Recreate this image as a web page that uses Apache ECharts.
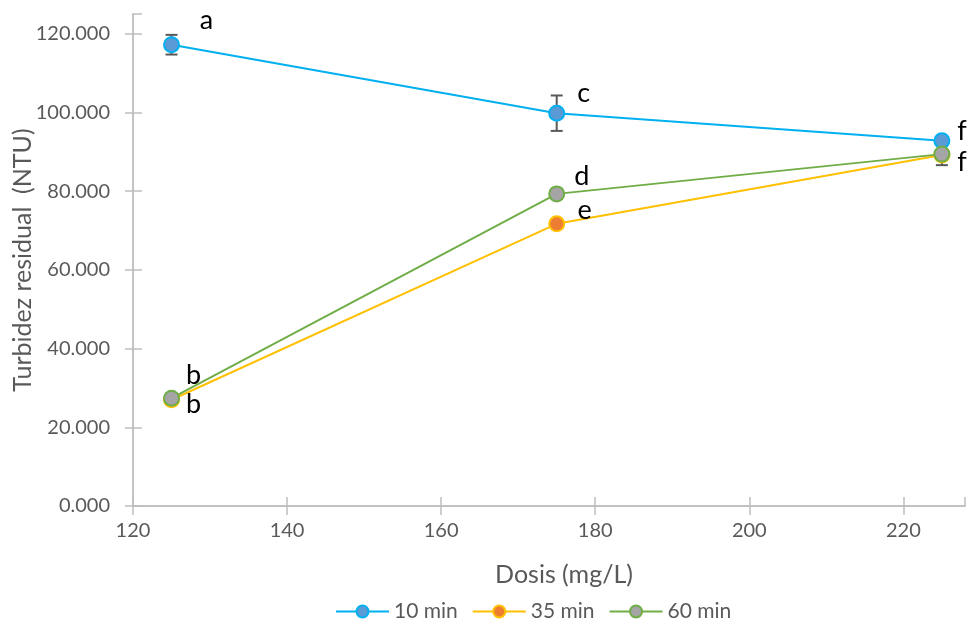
<!DOCTYPE html>
<html>
<head>
<meta charset="utf-8">
<script src="https://cdn.jsdelivr.net/npm/echarts@6/dist/echarts.min.js"></script>
<style>html,body{margin:0;padding:0;background:#fff}#c{width:968px;height:629px}</style>
</head>
<body>
<div id="c"></div>
<script>
const dosis = [125, 175, 225];
const min10 = [117.2, 99.8, 92.8];
const min35 = [27.0, 71.7, 89.2];
const min60 = [27.4, 79.3, 89.4];
const err10 = [2.5, 4.5, 0.8];
const err35 = [0.5, 0.6, 0.5];
const err60 = [0.6, 0.5, 2.8];
const letters10 = ['a', 'c', 'f'];
const letters35 = ['b', 'e', ''];
const letters60 = ['b', 'd', 'f'];
const seriesNames = ['10 min', '35 min', '60 min'];
const xTicks = [120, 140, 160, 180, 200, 220];
const yTicks = [0, 20, 40, 60, 80, 100, 120];

const FONT = 'Lato, "Open Sans", sans-serif';
const lineColors = ['#00B0F0', '#FFC000', '#70AD47'];
const fillColors = ['#5B9BD5', '#ED7D31', '#A5A5A5'];
const labelOffsets = [
  [[35, -24], [27, -20], [20, -9]],
  [[22, 5], [28, -13], [0, 0]],
  [[22, -23], [25, -18], [20, 8]]
];

const values = [min10, min35, min60];
const errs = [err10, err35, err60];
const letters = [letters10, letters35, letters60];

const axisLineColor = '#BFBFBF';
const xBase = {
  type: 'value', min: 120, max: 228, interval: 20,
  axisLine: { show: true, lineStyle: { color: axisLineColor, width: 1.5 } },
  splitLine: { show: false }
};
const yBase = {
  type: 'value', min: 0, max: 125, interval: 20,
  axisLine: { show: true, lineStyle: { color: axisLineColor, width: 1.5 } },
  splitLine: { show: false }
};

const series = [];
for (let s = 0; s < 3; s++) {
  series.push({
    name: seriesNames[s],
    type: 'line',
    data: dosis.map((d, i) => ({
      value: [d, values[s][i]],
      label: {
        show: letters[s][i] !== '',
        formatter: letters[s][i],
        offset: labelOffsets[s][i]
      }
    })),
    symbol: 'circle',
    symbolSize: 15,
    lineStyle: { color: lineColors[s], width: 2 },
    itemStyle: { color: fillColors[s], borderColor: lineColors[s], borderWidth: 2 },
    label: { position: 'inside', fontSize: 27, color: '#000', fontFamily: FONT },
    z: 3 + s,
    emphasis: { disabled: true }
  });
  series.push({
    type: 'custom',
    name: seriesNames[s] + ' err',
    data: dosis.map((d, i) => [d, values[s][i] - errs[s][i], values[s][i] + errs[s][i]]),
    renderItem: function (params, api) {
      const lo = api.coord([api.value(0), api.value(1)]);
      const hi = api.coord([api.value(0), api.value(2)]);
      const w = 6;
      const st = { stroke: '#595959', lineWidth: 2 };
      return {
        type: 'group',
        children: [
          { type: 'line', shape: { x1: lo[0], y1: lo[1], x2: hi[0], y2: hi[1] }, style: st },
          { type: 'line', shape: { x1: lo[0] - w, y1: lo[1], x2: lo[0] + w, y2: lo[1] }, style: st },
          { type: 'line', shape: { x1: hi[0] - w, y1: hi[1], x2: hi[0] + w, y2: hi[1] }, style: st }
        ]
      };
    },
    z: 2,
    silent: true
  });
}

const chart = echarts.init(document.getElementById('c'), null, { renderer: 'canvas' });
chart.setOption({
  animation: false,
  textStyle: { fontFamily: FONT },
  grid: { left: 133, right: 3, top: 14, bottom: 123, containLabel: false, outerBoundsMode: 'none' },
  legend: {
    data: seriesNames,
    bottom: 2,
    left: 330,
    itemWidth: 53,
    itemHeight: 15,
    itemGap: 14,
    textStyle: { fontSize: 21, color: '#595959', fontFamily: FONT }
  },
  xAxis: [
    Object.assign({}, xBase, {
      position: 'bottom',
      name: 'Dosis (mg/L)',
      nameLocation: 'middle',
      nameGap: 56,
      nameMoveOverlap: false,
      nameTextStyle: { fontSize: 25, color: '#595959', fontFamily: FONT, padding: [0, 0, 0, 30] },
      axisTick: { show: true, length: 9, lineStyle: { color: axisLineColor, width: 1.5 } },
      axisLabel: {
        fontSize: 20, color: '#595959', margin: 15, fontFamily: FONT,
        formatter: v => xTicks.indexOf(v) >= 0 ? String(v) : '',
        showMaxLabel: false
      }
    }),
    Object.assign({}, xBase, {
      position: 'bottom',
      axisTick: { show: true, inside: true, length: 9, lineStyle: { color: axisLineColor, width: 1.5 } },
      axisLabel: { show: false }
    })
  ],
  yAxis: [
    Object.assign({}, yBase, {
      position: 'left',
      name: 'Turbidez residual  (NTU)',
      nameLocation: 'middle',
      nameGap: 98,
      nameMoveOverlap: false,
      nameTextStyle: { fontSize: 25, color: '#595959', fontFamily: FONT },
      axisTick: { show: true, length: 8, lineStyle: { color: axisLineColor, width: 1.5 } },
      axisLabel: {
        fontSize: 20, color: '#595959', margin: 23, fontFamily: FONT,
        formatter: v => yTicks.indexOf(v) >= 0 ? v.toFixed(3) : '',
        showMaxLabel: false
      }
    }),
    Object.assign({}, yBase, {
      position: 'left',
      axisTick: { show: true, inside: true, length: 9, lineStyle: { color: axisLineColor, width: 1.5 } },
      axisLabel: { show: false }
    })
  ],
  series: series
});
</script>
</body>
</html>
